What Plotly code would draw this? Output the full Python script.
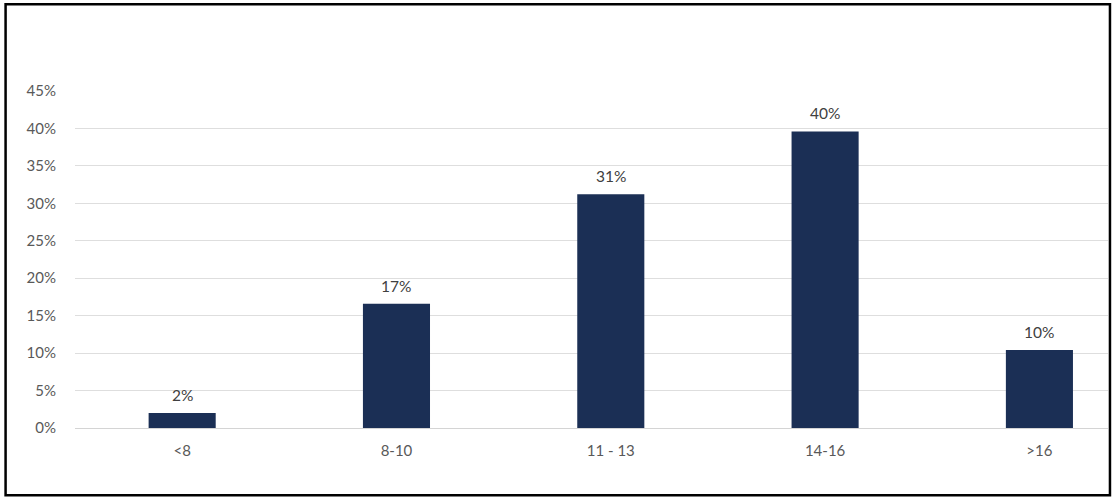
import plotly.graph_objects as go

categories = ["<8", "8-10", "11 - 13", "14-16", ">16"]
values = [0.020, 0.166, 0.312, 0.396, 0.104]
labels = ["2%", "17%", "31%", "40%", "10%"]

bar_color = "#1b2f55"
font_family = "Lato, 'Open Sans', sans-serif"

fig = go.Figure()
fig.add_trace(go.Bar(
    x=list(range(len(categories))),
    y=values,
    width=0.313,
    marker=dict(color=bar_color, line=dict(width=0)),
    hoverinfo="skip",
))

for i, (v, t) in enumerate(zip(values, labels)):
    fig.add_annotation(
        x=i, y=v, text=t, showarrow=False, yanchor="bottom", yshift=7,
        font=dict(family=font_family, size=15.5, color="#404040"),
    )

fig.update_layout(
    width=1116, height=502,
    margin=dict(l=75, r=8, t=91, b=74, autoexpand=False),
    paper_bgcolor="white", plot_bgcolor="white",
    showlegend=False,
    font=dict(family=font_family, size=15, color="#595959"),
    xaxis=dict(
        range=[-0.5, 4.32],
        automargin=False,
        tickmode="array",
        tickvals=list(range(len(categories))),
        ticktext=categories,
        showgrid=False, zeroline=False, showline=False,
        ticks="", ticklabelstandoff=12,
        tickfont=dict(size=15, color="#595959"),
    ),
    yaxis=dict(
        range=[0, 0.45],
        automargin=False,
        dtick=0.05, tick0=0,
        tickformat=".0%",
        showgrid=True, gridcolor="#dedede", gridwidth=1,
        zeroline=True, zerolinecolor="#d4d4d4", zerolinewidth=1,
        showline=False, ticks="",
        ticklabelstandoff=18,
        tickfont=dict(size=15, color="#595959"),
    ),
    shapes=[dict(
        type="rect", xref="paper", yref="paper",
        x0=-0.0672, x1=1.0019, y0=-0.1997, y1=1.2573,
        line=dict(color="black", width=2.5), fillcolor="rgba(0,0,0,0)",
        layer="above",
    )],
)

fig.write_html("out.html", config={"displayModeBar": False},
               post_script="document.body.style.margin='0px';")
